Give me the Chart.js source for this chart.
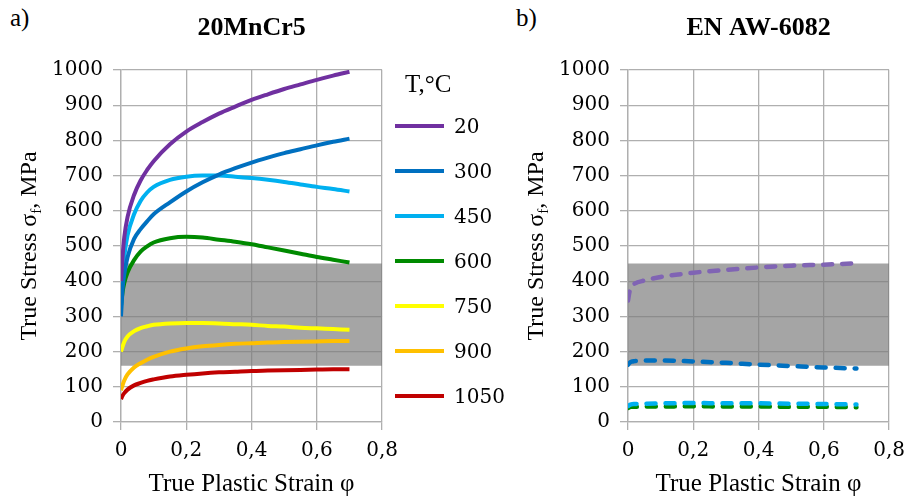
<!DOCTYPE html>
<html>
<head>
<meta charset="utf-8">
<script src="https://cdn.jsdelivr.net/npm/chart.js@4.4.1/dist/chart.umd.min.js"></script>
<style>
  html, body { margin: 0; padding: 0; background: #fff; }
  #page { position: relative; width: 923px; height: 498px; overflow: hidden; font-family: "Liberation Serif", "Times New Roman", serif; color: #000; }
  .box { position: absolute; top: 0; width: 407px; height: 498px; }
  .tag { position: absolute; top: 3px; font-size: 25px; line-height: 30px; }
  #legend { position: absolute; left: 395px; top: 64px; z-index: 2; }
  #legend .lg-title { height: 39px; line-height: 39px; padding-left: 10px; font-size: 25px; }
  #legend ul { list-style: none; margin: 0; padding: 0; }
  #legend li { height: 45px; display: flex; align-items: center; font-family: "DejaVu Serif", serif; font-size: 20px; }
  #legend li span.sw { display: inline-block; width: 49px; height: 4px; margin-right: 10px; }
</style>
</head>
<body>
<div id="page">
  <div class="tag" style="left:10px">a)</div>
  <div class="tag" style="left:516px">b)</div>
  <div class="box" style="left:0"><canvas id="steel" width="407" height="498"></canvas></div>
  <div class="box" style="left:507px"><canvas id="alu" width="407" height="498"></canvas></div>
  <div id="legend"></div>
</div>
<script>
// strain points
const strain = [0, 0.005, 0.01, 0.02, 0.04, 0.06, 0.08, 0.1, 0.15, 0.2, 0.25, 0.3, 0.35, 0.4, 0.45, 0.5, 0.55, 0.6, 0.65, 0.7];
const steel20   = [400, 472, 525, 582, 645, 686, 716, 741, 789, 825, 852, 876, 896, 915, 931, 946, 959, 972, 984, 995];
const steel300  = [300, 380, 420, 468, 520, 548, 570, 590, 624, 655, 681, 703, 721, 737, 751, 764, 775, 786, 796, 805];
const steel450  = [320, 420, 470, 530, 590, 628, 652, 668, 688, 697, 700, 700, 697, 693, 688, 682, 675, 668, 662, 655];
const steel600  = [330, 370, 395, 425, 460, 484, 499, 510, 522, 526, 524, 518, 512, 505, 496, 487, 478, 469, 461, 453];
const steel750  = [200, 215, 228, 243, 258, 267, 272, 276, 280, 281, 281, 280, 278, 276, 273, 271, 268, 266, 264, 262];
const steel900  = [90, 105, 118, 135, 155, 167, 177, 185, 200, 209, 215, 219, 222, 224, 226, 227, 228, 229, 230, 230];
const steel1050 = [65, 75, 82, 92, 104, 111, 117, 121, 129, 134, 138, 141, 143, 145, 146, 147, 148, 149, 150, 150];

const strainAlu = [0, 0.005, 0.01, 0.02, 0.05, 0.1, 0.2, 0.3, 0.4, 0.5, 0.6, 0.7];
const alu20  = [345, 372, 385, 393, 402, 412, 424, 432, 439, 444, 447, 451];
const alu300 = [163, 168, 171, 173, 175, 175, 172, 168, 163, 159, 155, 152];
const alu450 = [45, 48, 50, 51, 52, 53, 54, 53, 53, 52, 51, 50];
const alu600 = [40, 42, 43, 43, 44, 44, 45, 44, 44, 43, 43, 42];

const temps = ['20', '300', '450', '600', '750', '900', '1050'];
const steelColors = ['#7030A0', '#0070C0', '#00B0F0', '#008A00', '#FFFF00', '#FFC000', '#C00000'];
const aluColors = ['#8064B4', '#0070C0', '#00B0F0', '#008A00'];

const bandX = [0, 0.8];
const bandTop = [450, 450];
const bandBottom = 160;

const xTickLabels = ['0', '0,2', '0,4', '0,6', '0,8'];

const serif = '"Liberation Serif", "Times New Roman", serif';
const digitFont = '"DejaVu Serif", serif';

function pts(xs, ys) {
    return xs.map((x, i) => ({ x: x, y: ys[i] }));
}

const bandSet = {
    label: 'band',
    data: pts(bandX, bandTop),
    borderWidth: 0,
    pointRadius: 0,
    backgroundColor: 'rgba(125,125,125,0.69)',
    fill: { value: bandBottom },
    order: 10
};

// y title with subscript f, drawn rotated left of the axis
const yTitlePlugin = {
    id: 'yTitle',
    afterDraw(chart, args, opts) {
        const { ctx, chartArea } = chart;
        const main = 'True Stress σ', sub = 'f', tail = ', MPa';
        ctx.save();
        ctx.font = '24px ' + serif;
        const w1 = ctx.measureText(main).width;
        const w3 = ctx.measureText(tail).width;
        ctx.font = '15px ' + serif;
        const w2 = ctx.measureText(sub).width;
        ctx.translate(opts.x, (chartArea.top + chartArea.bottom) / 2);
        ctx.rotate(-Math.PI / 2);
        ctx.fillStyle = '#000';
        ctx.textAlign = 'left';
        ctx.textBaseline = 'alphabetic';
        let x = -(w1 + w2 + w3) / 2;
        ctx.font = '24px ' + serif;
        ctx.fillText(main, x, 8);
        x += w1;
        ctx.font = '15px ' + serif;
        ctx.fillText(sub, x, 13);
        x += w2;
        ctx.font = '24px ' + serif;
        ctx.fillText(tail, x, 8);
        ctx.restore();
    }
};

const htmlLegendPlugin = {
    id: 'htmlLegend',
    afterUpdate(chart, args, opts) {
        if (!opts.containerID) return;
        const box = document.getElementById(opts.containerID);
        box.innerHTML = '';
        const t = document.createElement('div');
        t.className = 'lg-title';
        t.textContent = 'T,°C';
        box.appendChild(t);
        const ul = document.createElement('ul');
        chart.data.datasets.filter(ds => ds.label !== 'band').forEach(ds => {
            const li = document.createElement('li');
            const sw = document.createElement('span');
            sw.className = 'sw';
            sw.style.background = ds.borderColor;
            li.appendChild(sw);
            li.appendChild(document.createTextNode(ds.label));
            ul.appendChild(li);
        });
        box.appendChild(ul);
    }
};

function makeChart(id, title, lines, legendId) {
    const gridColor = '#AFAFAF';
    return new Chart(document.getElementById(id), {
        type: 'line',
        data: { datasets: lines.concat([bandSet]) },
        options: {
            responsive: false,
            animation: false,
            layout: { padding: { left: 0, right: 20, top: 0, bottom: 0 } },
            elements: { line: { cubicInterpolationMode: 'monotone' }, point: { radius: 0 } },
            scales: {
                x: {
                    type: 'linear',
                    min: 0,
                    max: 0.8,
                    ticks: {
                        stepSize: 0.2,
                        padding: 9,
                        color: '#000',
                        font: { family: digitFont, size: 20 },
                        callback: (v, i) => xTickLabels[i]
                    },
                    grid: { color: gridColor, lineWidth: 1.3, tickLength: 8, tickColor: gridColor },
                    border: { color: gridColor, width: 1.3 },
                    title: {
                        display: true,
                        text: 'True Plastic Strain φ',
                        color: '#000',
                        font: { family: serif, size: 25, lineHeight: 1 },
                        padding: { top: 0, bottom: 1 }
                    },
                    afterFit: s => { s.height = 76; }
                },
                y: {
                    min: 0,
                    max: 1000,
                    ticks: {
                        stepSize: 100,
                        padding: 10,
                        color: '#000',
                        font: { family: digitFont, size: 20 },
                        callback: v => String(v)
                    },
                    grid: { color: gridColor, lineWidth: 1.3, tickLength: 8, tickColor: gridColor },
                    border: { color: gridColor, width: 1.3 },
                    afterFit: s => { s.width = 121; }
                }
            },
            plugins: {
                legend: { display: false },
                tooltip: { enabled: false },
                title: {
                    display: true,
                    text: title,
                    fullSize: false,
                    color: '#000',
                    font: { family: serif, size: 26, weight: 'bold', lineHeight: 1.2 },
                    padding: { top: 12.4, bottom: 26.4 }
                },
                yTitle: { x: 28 },
                htmlLegend: { containerID: legendId }
            }
        },
        plugins: [yTitlePlugin, htmlLegendPlugin]
    });
}

const steelSeries = [steel20, steel300, steel450, steel600, steel750, steel900, steel1050];
const steelLines = steelSeries.map((ys, i) => ({
    label: temps[i],
    data: pts(strain, ys),
    borderColor: steelColors[i],
    backgroundColor: steelColors[i],
    borderWidth: 4,
    fill: false,
    order: 0
}));

const aluSeries = [alu20, alu300, alu450, alu600];
const aluLines = aluSeries.map((ys, i) => ({
    label: temps[i],
    data: pts(strainAlu, ys),
    borderColor: aluColors[i],
    backgroundColor: aluColors[i],
    borderWidth: 4.5,
    borderDash: [9, 10],
    borderCapStyle: 'round',
    fill: false,
    order: 0
}));

makeChart('steel', '20MnCr5', steelLines, 'legend');
makeChart('alu', 'EN AW-6082', aluLines, null);
</script>
</body>
</html>
